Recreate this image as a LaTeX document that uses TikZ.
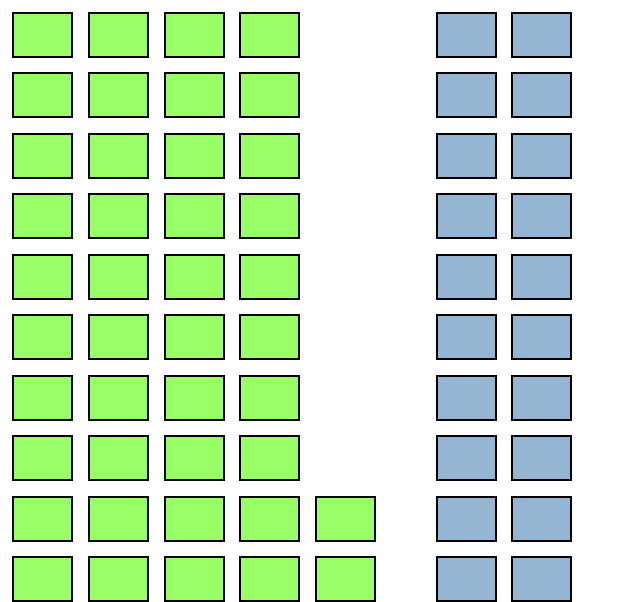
\documentclass[tikz,border=0pt]{standalone}
\usetikzlibrary{positioning}

\definecolor{zelena}{HTML}{99FF66}
\definecolor{modra}{HTML}{95B6D3}

\tikzset{
  krabice/.style={draw=black,line width=2pt,minimum width=59pt,minimum height=44pt,inner sep=0pt,anchor=north west},
  zelenabox/.style={krabice,fill=zelena},
  modrabox/.style={krabice,fill=modra}
}

\begin{document}
\begin{tikzpicture}[x=1pt,y=-1pt]
        % okraje
        \useasboundingbox (0,0) rectangle (622,602);

        % zelene krabice, 4 sloupce po 10
        \foreach \s in {0,...,3}
          \foreach \r in {0,...,9}
            \node[zelenabox] (z\s-\r) at ({12+75.75*\s},{12+60.44*\r}) {};

        % paty sloupec, jen dva dole
        \foreach \r in {8,9}
          \node[zelenabox] (z4-\r) at ({12+75.75*4},{12+60.44*\r}) {};

        % modre krabice
        \foreach \s/\x in {0/436,1/511}
          \foreach \r in {0,...,9}
            \node[modrabox] (m\s-\r) at (\x,{12+60.44*\r}) {};
\end{tikzpicture}
\end{document}
